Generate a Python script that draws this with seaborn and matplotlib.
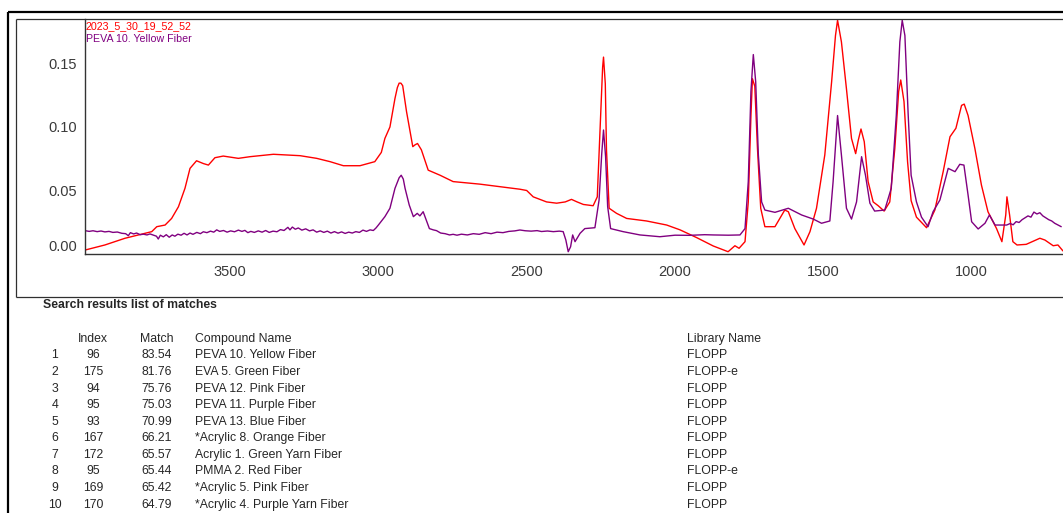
import numpy as np
import pandas as pd
import matplotlib
matplotlib.use("Agg")
import matplotlib.pyplot as plt
import seaborn as sns
from matplotlib.lines import Line2D
from matplotlib.ticker import MultipleLocator

# ---------------- data ----------------
sample_name = "2023_5_30_19_52_52"
ref_name = "PEVA 10. Yellow Fiber"

sample_wn = [3989, 3922, 3854, 3809, 3764, 3747, 3719, 3697, 3674, 3652, 3635, 3613, 3590, 3573,
             3551, 3523, 3472, 3433, 3354, 3264, 3208, 3163, 3118, 3062, 3012, 2990, 2978, 2961,
             2944, 2936, 2930, 2924, 2918, 2905, 2891, 2884, 2876, 2868, 2855, 2832, 2792, 2748,
             2658, 2523, 2500, 2478, 2433, 2399, 2370, 2349, 2330, 2309, 2276, 2262, 2253, 2244,
             2241, 2235, 2231, 2222, 2197, 2163, 2096, 2028, 1983, 1927, 1871, 1821, 1798, 1784,
             1764, 1753, 1744, 1739, 1731, 1722, 1711, 1697, 1663, 1630, 1618, 1596, 1565, 1545,
             1523, 1495, 1472, 1459, 1452, 1439, 1422, 1405, 1391, 1382, 1373, 1362, 1349, 1332,
             1315, 1295, 1276, 1259, 1246, 1239, 1228, 1216, 1204, 1186, 1152, 1124, 1096, 1073,
             1053, 1034, 1025, 1012, 989, 967, 945, 916, 898, 885, 881, 872, 861, 847, 816, 770,
             753, 725, 709, 692]
sample_abs = [0.0031, 0.0071, 0.0124, 0.0150, 0.0176, 0.0215, 0.0228, 0.0280, 0.0372, 0.0517,
              0.0674, 0.0734, 0.0712, 0.0700, 0.0758, 0.0771, 0.0753, 0.0766, 0.0785, 0.0774,
              0.0753, 0.0727, 0.0695, 0.0695, 0.0727, 0.0800, 0.0910, 0.1000, 0.1225, 0.1310,
              0.1345, 0.1345, 0.1325, 0.1120, 0.0937, 0.0845, 0.0860, 0.0870, 0.0820, 0.0660,
              0.0620, 0.0570, 0.0550, 0.0510, 0.0500, 0.0450, 0.0410, 0.0400, 0.0410, 0.0430,
              0.0410, 0.0390, 0.0380, 0.0450, 0.0950, 0.1470, 0.1550, 0.1340, 0.0820, 0.0360,
              0.0320, 0.0280, 0.0260, 0.0228, 0.0190, 0.0129, 0.0063, 0.0018, 0.0065, 0.0045,
              0.0097, 0.0410, 0.1090, 0.1380, 0.1320, 0.0830, 0.0360, 0.0215, 0.0215, 0.0346,
              0.0333, 0.0200, 0.0071, 0.0176, 0.0360, 0.0780, 0.1356, 0.1720, 0.1840, 0.1670,
              0.1300, 0.0910, 0.0790, 0.0897, 0.0984, 0.0884, 0.0570, 0.0410, 0.0380, 0.0338,
              0.0410, 0.0830, 0.1280, 0.1370, 0.1200, 0.0727, 0.0420, 0.0290, 0.0207, 0.0346,
              0.0648, 0.0923, 0.0990, 0.1170, 0.1180, 0.1090, 0.0830, 0.0543, 0.0333, 0.0200,
              0.0097, 0.0307, 0.0450, 0.0307, 0.0097, 0.0071, 0.0076, 0.0124, 0.0110, 0.0065,
              0.0071, 0.0024]

ref_wn = [3989, 3975, 3962, 3948, 3935, 3922, 3908, 3895, 3880, 3865, 3852, 3843, 3836, 3825,
          3815, 3803, 3792, 3780, 3770, 3758, 3748, 3742, 3735, 3725, 3715, 3705, 3695, 3686,
          3676, 3665, 3655, 3645, 3635, 3625, 3612, 3600, 3590, 3578, 3566, 3555, 3545, 3535,
          3522, 3510, 3498, 3485, 3472, 3460, 3450, 3440, 3430, 3418, 3405, 3392, 3380, 3368,
          3355, 3342, 3330, 3318, 3305, 3298, 3290, 3280, 3270, 3258, 3245, 3232, 3220, 3208,
          3196, 3184, 3172, 3160, 3148, 3136, 3124, 3112, 3100, 3088, 3076, 3064, 3052, 3040,
          3028, 3017, 3008, 3000, 2978, 2961, 2944, 2930, 2923, 2916, 2910, 2896, 2882, 2869,
          2860, 2849, 2828, 2815, 2804, 2790, 2775, 2760, 2748, 2735, 2720, 2700, 2680, 2660,
          2640, 2620, 2600, 2580, 2560, 2540, 2523, 2505, 2485, 2465, 2450, 2430, 2410, 2390,
          2377, 2368, 2360, 2352, 2345, 2337, 2320, 2304, 2270, 2256, 2247, 2241, 2234, 2227,
          2217, 2175, 2118, 2051, 2000, 1950, 1900, 1871, 1820, 1781, 1764, 1753, 1744, 1736,
          1728, 1719, 1708, 1697, 1663, 1618, 1573, 1534, 1506, 1478, 1467, 1452, 1439, 1422,
          1405, 1388, 1371, 1358, 1343, 1327, 1293, 1271, 1254, 1242, 1234, 1225, 1214, 1204,
          1186, 1169, 1147, 1130, 1107, 1079, 1056, 1040, 1026, 1012, 1000, 978, 955, 940, 921,
          882, 870, 860, 850, 840, 830, 820, 810, 800, 790, 780, 770, 760, 750, 740, 730, 720,
          710, 698]
ref_abs = [0.0184, 0.0178, 0.0183, 0.0176, 0.0181, 0.0174, 0.0178, 0.0170, 0.0173, 0.0163,
           0.0160, 0.0144, 0.0168, 0.0158, 0.0165, 0.0152, 0.0156, 0.0150, 0.0158, 0.0148,
           0.0140, 0.0118, 0.0148, 0.0135, 0.0152, 0.0132, 0.0150, 0.0140, 0.0156, 0.0148,
           0.0163, 0.0150, 0.0165, 0.0155, 0.0170, 0.0160, 0.0175, 0.0168, 0.0180, 0.0172,
           0.0190, 0.0178, 0.0185, 0.0172, 0.0182, 0.0175, 0.0188, 0.0178, 0.0186, 0.0168,
           0.0178, 0.0170, 0.0182, 0.0172, 0.0185, 0.0170, 0.0180, 0.0175, 0.0192, 0.0185,
           0.0210, 0.0190, 0.0212, 0.0195, 0.0205, 0.0188, 0.0198, 0.0182, 0.0190, 0.0172,
           0.0182, 0.0170, 0.0180, 0.0165, 0.0176, 0.0164, 0.0174, 0.0162, 0.0172, 0.0165,
           0.0176, 0.0170, 0.0188, 0.0178, 0.0190, 0.0185, 0.0205, 0.0228, 0.0294, 0.0360,
           0.0517, 0.0600, 0.0620, 0.0590, 0.0517, 0.0386, 0.0294, 0.0320, 0.0300, 0.0333,
           0.0200, 0.0190, 0.0184, 0.0165, 0.0160, 0.0150, 0.0155, 0.0148, 0.0156, 0.0150,
           0.0160, 0.0155, 0.0168, 0.0160, 0.0172, 0.0168, 0.0178, 0.0182, 0.0189, 0.0183,
           0.0180, 0.0184, 0.0177, 0.0181, 0.0176, 0.0180, 0.0176, 0.0110, 0.0018, 0.0057,
           0.0150, 0.0097, 0.0163, 0.0200, 0.0207, 0.0425, 0.0790, 0.0976, 0.0766, 0.0372,
           0.0200, 0.0176, 0.0150, 0.0136, 0.0148, 0.0147, 0.0152, 0.0150, 0.0148, 0.0150,
           0.0200, 0.0570, 0.1280, 0.1570, 0.1356, 0.0780, 0.0410, 0.0346, 0.0328, 0.0360,
           0.0307, 0.0275, 0.0242, 0.0260, 0.0570, 0.1090, 0.0780, 0.0360, 0.0275, 0.0410,
           0.0766, 0.0622, 0.0400, 0.0338, 0.0346, 0.0517, 0.1090, 0.1670, 0.1840, 0.1720,
           0.1100, 0.0620, 0.0410, 0.0290, 0.0215, 0.0333, 0.0425, 0.0674, 0.0648, 0.0706,
           0.0700, 0.0464, 0.0254, 0.0197, 0.0242, 0.0307, 0.0228, 0.0228, 0.0240, 0.0230,
           0.0255, 0.0248, 0.0270, 0.0285, 0.0300, 0.0290, 0.0330, 0.0315, 0.0325, 0.0300,
           0.0285, 0.0270, 0.0260, 0.0242, 0.0230, 0.0215]

table_title = "Search results list of matches"
header_labels = ["Index", "Match", "Compound Name", "Library Name"]
ranks = [1, 2, 3, 4, 5, 6, 7, 8, 9, 10]
index_ids = [96, 175, 94, 95, 93, 167, 172, 95, 169, 170]
match_scores = [83.54, 81.76, 75.76, 75.03, 70.99, 66.21, 65.57, 65.44, 65.42, 64.79]
compound_names = ["PEVA 10. Yellow Fiber", "EVA 5. Green Fiber", "PEVA 12. Pink Fiber",
                  "PEVA 11. Purple Fiber", "PEVA 13. Blue Fiber", "*Acrylic 8. Orange Fiber",
                  "Acrylic 1. Green Yarn Fiber", "PMMA 2. Red Fiber", "*Acrylic 5. Pink Fiber",
                  "*Acrylic 4. Purple Yarn Fiber"]
library_names = ["FLOPP", "FLOPP-e", "FLOPP", "FLOPP", "FLOPP", "FLOPP", "FLOPP", "FLOPP-e",
                 "FLOPP", "FLOPP"]

y_ticks = [0.00, 0.05, 0.10, 0.15]
x_ticks = [3500, 3000, 2500, 2000, 1500, 1000]

# ---------------- styling ----------------
RED = "#ff0000"
PURPLE = "#800080"
W, H, DPI = 1063, 513, 100

sns.set_style("white")
plt.rcParams['font.family'] = ['Liberation Sans', 'DejaVu Sans']

fig = plt.figure(figsize=(W / DPI, H / DPI), dpi=DPI)
fig.patch.set_facecolor("white")


def fx(x):
    return x / W


def fy(y):
    return 1 - y / H


ax = fig.add_axes([fx(85), fy(254), fx(1063) - fx(85), fy(19) - fy(254)])
ax.set_facecolor("white")

df = pd.concat([
    pd.DataFrame({"wn": sample_wn, "abs": sample_abs, "series": sample_name}),
    pd.DataFrame({"wn": ref_wn, "abs": ref_abs, "series": ref_name}),
], ignore_index=True)

sns.lineplot(data=df, x="wn", y="abs", hue="series",
             palette={sample_name: RED, ref_name: PURPLE},
             sort=False, estimator=None, linewidth=1.0, legend=False, ax=ax)

ax.set_xlim(3989, 692)
ax.set_ylim(0, 0.185)
ax.set_xlabel("")
ax.set_ylabel("")

ax.set_xticks(x_ticks)
ax.set_xticklabels([str(t) for t in x_ticks])
ax.xaxis.set_minor_locator(MultipleLocator(100))
ax.set_yticks(y_ticks)
ax.set_yticklabels([f"{t:.2f}" for t in y_ticks])
ax.yaxis.set_minor_locator(MultipleLocator(0.0125))

for s in ["top", "right"]:
    ax.spines[s].set_visible(False)
for s in ["left", "bottom"]:
    ax.spines[s].set_color("#333333")
    ax.spines[s].set_linewidth(1.0)

ax.tick_params(axis="y", which="major", length=5, width=1, direction="out", pad=1,
               labelsize=10.5, labelcolor="#3a3a3a", color="#333333")
ax.tick_params(axis="y", which="minor", length=3, width=0.8, direction="out", color="#333333")
ax.tick_params(axis="x", which="major", length=5, width=1, direction="out", pad=3,
               labelsize=10.5, labelcolor="#3a3a3a", color="#333333")
ax.tick_params(axis="x", which="minor", length=4, width=0.8, direction="out", color="#333333")
ax.get_yticklabels()[0].set_verticalalignment("bottom")

# series labels inside the plot
fig.text(fx(86), fy(26), sample_name, color=RED, fontsize=7.7, ha="left", va="center")
fig.text(fx(86), fy(39), ref_name, color=PURPLE, fontsize=7.7, ha="left", va="center")

# frames
outer = dict(color="black", linewidth=1.6, transform=fig.transFigure, solid_capstyle="butt")
fig.add_artist(Line2D([fx(7.5), fx(1063)], [fy(12), fy(12)], **outer))
fig.add_artist(Line2D([fx(7.5), fx(7.5)], [fy(12), fy(513)], **outer))
inner = dict(color="#303030", linewidth=0.9, transform=fig.transFigure, solid_capstyle="butt")
fig.add_artist(Line2D([fx(16), fx(1063)], [fy(19), fy(19)], **inner))
fig.add_artist(Line2D([fx(16), fx(16)], [fy(19), fy(297)], **inner))
fig.add_artist(Line2D([fx(16), fx(1063)], [fy(297), fy(297)], **inner))

# table
TS = 8.8
fig.text(fx(43), fy(305), table_title, fontsize=TS, fontweight="bold", ha="left", va="center")
hy = 339.3
fig.text(fx(93), fy(hy), header_labels[0], fontsize=TS, ha="center", va="center")
fig.text(fx(157), fy(hy), header_labels[1], fontsize=TS, ha="center", va="center")
fig.text(fx(195), fy(hy), header_labels[2], fontsize=TS, ha="left", va="center")
fig.text(fx(687), fy(hy), header_labels[3], fontsize=TS, ha="left", va="center")
for i, (r, idx, m, c, lib) in enumerate(zip(ranks, index_ids, match_scores,
                                            compound_names, library_names)):
    y = 355.3 + 16.6 * i
    fig.text(fx(55), fy(y), str(r), fontsize=TS, ha="center", va="center")
    fig.text(fx(93), fy(y), str(idx), fontsize=TS, ha="center", va="center")
    fig.text(fx(157), fy(y), f"{m:.2f}", fontsize=TS, ha="center", va="center")
    fig.text(fx(195), fy(y), c, fontsize=TS, ha="left", va="center")
    fig.text(fx(687), fy(y), lib, fontsize=TS, ha="left", va="center")

fig.savefig("out.png", dpi=DPI, facecolor="white")
